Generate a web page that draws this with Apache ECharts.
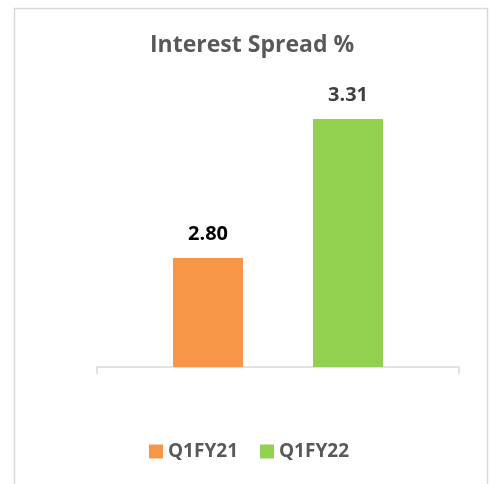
<!DOCTYPE html>
<html><head><meta charset="utf-8">
<script src="https://cdn.jsdelivr.net/npm/echarts@6/dist/echarts.min.js"></script>
<style>html,body{margin:0;padding:0;background:#fff}#c{width:492px;height:484px}</style>
</head><body><div id="c"></div>
<script>
const categories = [''];
const seriesNames = ['Q1FY21', 'Q1FY22'];
const q1fy21 = [2.80];
const q1fy22 = [3.31];
const colors = ['#F79646', '#92D050'];
const labelColors = ['#000000', '#404040'];

const chart = echarts.init(document.getElementById('c'));
const FONT = 'Open Sans';
chart.setOption({
  animation: false,
  backgroundColor: '#fff',
  title: {
    text: 'Interest Spread %', left: 145, top: 29,
    textStyle: { fontFamily: FONT, fontSize: 23, fontWeight: 'bold', color: '#595959' }
  },
  graphic: [{
    type: 'rect', shape: { x: 14.5, y: 8.5, width: 473, height: 490 },
    style: { fill: 'none', stroke: '#d9d9d9', lineWidth: 1.5 }, silent: true, z: -1
  }],
  legend: {
    bottom: 18, left: 144, itemWidth: 14, itemHeight: 14, itemGap: 22, itemTextGap: 6,
    icon: 'rect',
    textStyle: { fontFamily: FONT, fontSize: 19, fontWeight: 'bold', color: '#595959' },
    data: seriesNames
  },
  grid: { left: 97, right: 33, top: 94.5, bottom: 117 },
  xAxis: {
    type: 'category', data: categories,
    axisLine: { lineStyle: { color: '#d9d9d9', width: 1.5 } },
    axisTick: { show: true, length: 7, lineStyle: { color: '#d9d9d9', width: 1.5 } },
    axisLabel: { show: false }
  },
  yAxis: {
    type: 'value', min: 2.4, max: 3.4, show: false,
    splitLine: { show: false }
  },
  series: [
    { name: seriesNames[0], type: 'bar', data: q1fy21, barWidth: 70, barGap: '100%',
      itemStyle: { color: colors[0] },
      label: { show: true, position: 'top', distance: 14, formatter: p => p.value.toFixed(2),
        fontFamily: FONT, fontSize: 20, fontWeight: 'bold', color: labelColors[0] } },
    { name: seriesNames[1], type: 'bar', data: q1fy22, barWidth: 70, barGap: '100%',
      itemStyle: { color: colors[1] },
      label: { show: true, position: 'top', distance: 14, formatter: p => p.value.toFixed(2),
        fontFamily: FONT, fontSize: 20, fontWeight: 'bold', color: labelColors[1] } }
  ]
});
</script></body></html>
